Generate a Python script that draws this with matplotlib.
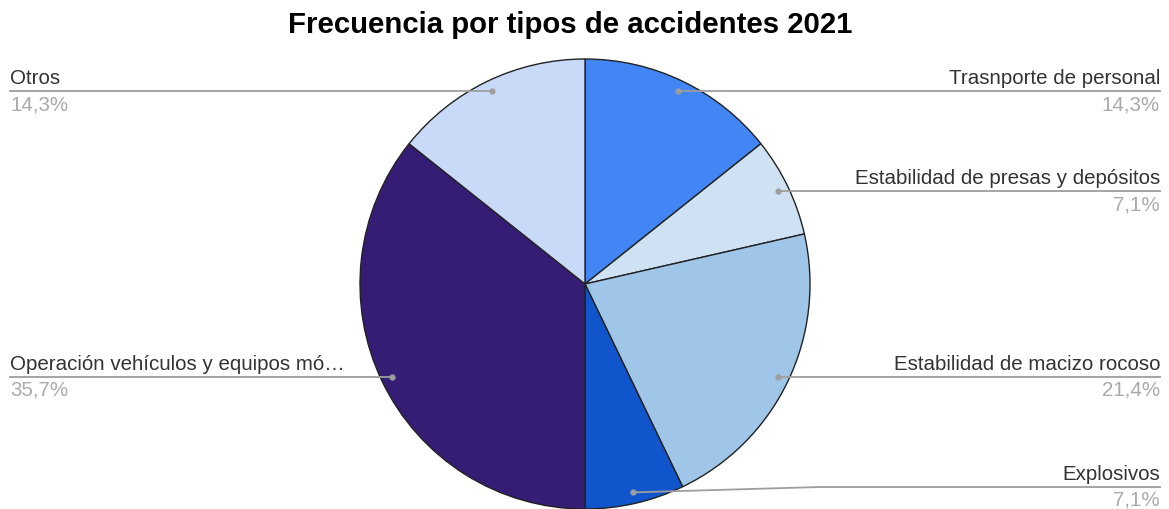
import numpy as np
import matplotlib
matplotlib.use("Agg")
import matplotlib.pyplot as plt

plt.rcParams['font.family'] = ['Liberation Sans', 'DejaVu Sans']

labels = ["Trasnporte de personal", "Estabilidad de presas y depósitos",
          "Estabilidad de macizo rocoso", "Explosivos",
          "Operación vehículos y equipos mó…", "Otros"]
counts = [2, 1, 3, 1, 5, 2]
colors = ["#4285f4", "#cfe2f3", "#9fc5e8", "#1155cc", "#351c75", "#c9daf8"]

W, H = 1169, 510
fig = plt.figure(figsize=(W / 100, H / 100), dpi=100)

# pie area in pixels
ax = fig.add_axes([360 / W, 0 / H, 450 / W, 450 / H])
wedges, _ = ax.pie(counts, colors=colors, startangle=90, counterclock=False,
                   wedgeprops=dict(edgecolor="#222222", linewidth=1.0))
ax.set_xlim(-1, 1)
ax.set_ylim(-1, 1)
ax.set_aspect("equal")

# overlay in pixel coords for labels
ov = fig.add_axes([0, 0, 1, 1], facecolor="none")
ov.set_xlim(0, W)
ov.set_ylim(H, 0)
ov.axis("off")

total = sum(counts)
line_c = "#9e9e9e"
for w, lab, c in zip(wedges, labels, counts):
    mid = np.deg2rad((w.theta1 + w.theta2) / 2)
    dx, dy = 0.95 * np.cos(mid), 0.95 * np.sin(mid)
    px, py = ax.transData.transform((dx, dy))
    py = H - py
    ly = min(py, 488)
    pct = f"{100 * c / total:.1f}%".replace(".", ",")
    if px > 585:
        ov.plot([px, 820, 1160], [py, ly, ly], color=line_c, lw=1.3, zorder=3)
        tx, ha = 1160, "right"
    else:
        ov.plot([px, 10], [py, ly], color=line_c, lw=1.3, zorder=3)
        tx, ha = 10, "left"
    ov.plot(px, py, "o", color=line_c, ms=3.5, zorder=4)
    ov.text(tx, ly - 4, lab, ha=ha, va="bottom", fontsize=14.8, color="#333333")
    ov.text(tx, ly + 3, pct, ha=ha, va="top", fontsize=14.8, color="#aaaaaa")

ov.text(570, 25, "Frecuencia por tipos de accidentes 2021", ha="center",
        va="center", fontsize=21.2, fontweight="bold", color="#000000")

fig.savefig("out.png", dpi=100)
